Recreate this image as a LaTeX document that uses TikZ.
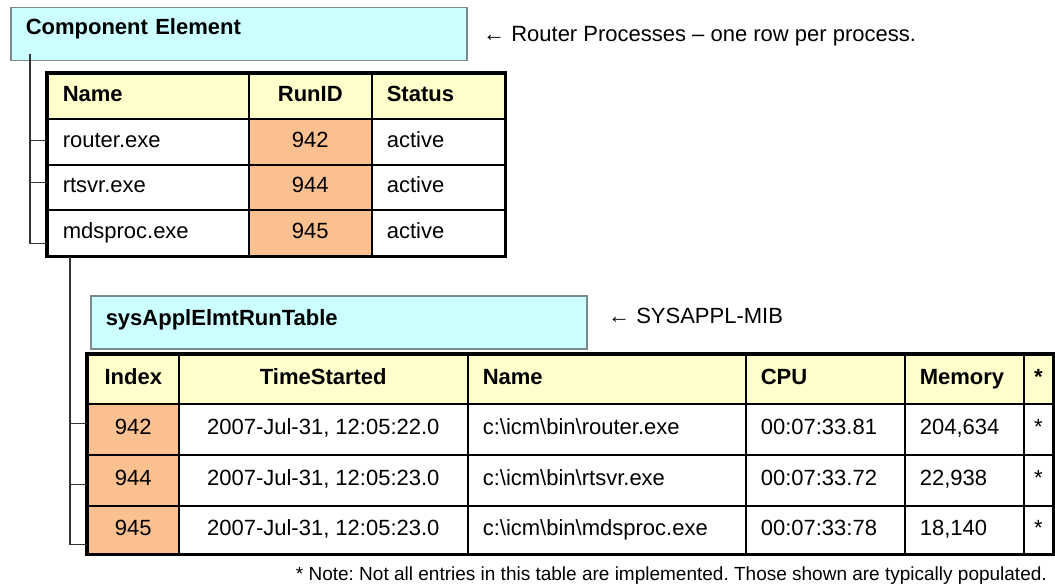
\documentclass[tikz,border=0pt]{standalone}
\usepackage{fontspec}
\setmainfont{Liberation Sans}
\usetikzlibrary{calc}
\definecolor{cyanfill}{HTML}{CCFFFF}
\definecolor{hdrfill}{HTML}{FFFFCC}
\definecolor{idfill}{HTML}{FAC090}
\definecolor{boxline}{HTML}{7A8A8C}
\definecolor{connline}{HTML}{333333}
\newcommand\fs{\fontsize{22}{26}\selectfont}
\newcommand\fsn{\fontsize{19}{23}\selectfont}
\newcommand\cel[6]{\node[cell,#4,minimum height=#5pt,anchor=north west] (#1) at (#2,#3) {#6};}
\newcommand\bs{\textbackslash}
\frenchspacing
\begin{document}
\frenchspacing
\begin{tikzpicture}[x=1pt,y=-1pt,
  cell/.style={draw=black,line width=1.6pt,inner xsep=15pt,inner ysep=0pt,font=\fs,text height=16pt,text depth=5pt,fill=white},
  hdr/.style={fill=hdrfill,font=\fs\bfseries},
  idc/.style={fill=idfill},
  t1c1/.style={minimum width=201pt,text width=171pt,align=left},
  t1c2/.style={minimum width=123pt,align=center},
  t1c3/.style={minimum width=133pt,text width=103pt,align=left},
  t2c1/.style={minimum width=91pt,align=center},
  t2c2/.style={minimum width=289pt,align=center},
  t2c3/.style={minimum width=278pt,text width=248pt,align=left},
  t2c4/.style={minimum width=159pt,text width=129pt,align=left},
  t2c5/.style={minimum width=119pt,text width=89pt,align=left},
  t2c6/.style={minimum width=29pt,inner xsep=0pt,align=center},
  outer/.style={draw=black,line width=3.5pt},
  titlebox/.style={draw=boxline,line width=1.5pt,fill=cyanfill,inner xsep=15pt,inner ysep=0pt,font=\fs\bfseries,align=left,anchor=north west},
  anno/.style={font=\fs,inner sep=0pt},
  conn/.style={draw=connline,line width=1.4pt}
]
\useasboundingbox (0,0) rectangle (1055,588);
\fill[white] (0,0) rectangle (1055,588);

% Component Element title
\node[titlebox,minimum width=456pt,minimum height=53pt,text width=426pt,text height=16pt,text depth=15pt] (ce) at (10,7) {Component Element};
\node[anno,anchor=base west] (a1) at (483,42) {← Router Processes – one row per process.};

% Table 1
\cel{h1n}{47}{73}{t1c1,hdr}{45}{Name}
\cel{h1r}{248}{73}{t1c2,hdr}{45}{RunID}
\cel{h1s}{371}{73}{t1c3,hdr}{45}{Status}
\cel{p1n}{47}{118}{t1c1}{46}{router.exe}
\cel{p1r}{248}{118}{t1c2,idc}{46}{942}
\cel{p1s}{371}{118}{t1c3}{46}{active}
\cel{p2n}{47}{164}{t1c1}{45}{rtsvr.exe}
\cel{p2r}{248}{164}{t1c2,idc}{45}{944}
\cel{p2s}{371}{164}{t1c3}{45}{active}
\cel{p3n}{47}{209}{t1c1}{46}{mdsproc.exe}
\cel{p3r}{248}{209}{t1c2,idc}{46}{945}
\cel{p3s}{371}{209}{t1c3}{46}{active}
\draw[outer] (h1n.north west) rectangle (p3s.south east);

% sysApplElmtRunTable title
\node[titlebox,minimum width=496pt,minimum height=53pt,text width=466pt,text height=16pt,text depth=9pt] (st) at (90,295) {sysApplElmtRunTable};
\node[anno,anchor=base west] (a2) at (608,323) {← SYSAPPL-MIB};

% Table 2
\cel{h2i}{87}{354}{t2c1,hdr}{49}{Index}
\cel{h2t}{178}{354}{t2c2,hdr}{49}{TimeStarted}
\cel{h2n}{467}{354}{t2c3,hdr}{49}{Name}
\cel{h2c}{745}{354}{t2c4,hdr}{49}{CPU}
\cel{h2m}{904}{354}{t2c5,hdr}{49}{Memory}
\cel{h2s}{1023}{354}{t2c6,hdr}{49}{*}
\cel{e1i}{87}{403}{t2c1,idc}{51}{942}
\cel{e1t}{178}{403}{t2c2}{51}{2007-Jul-31, 12:05:22.0}
\cel{e1n}{467}{403}{t2c3}{51}{c:\bs icm\bs bin\bs router.exe}
\cel{e1c}{745}{403}{t2c4}{51}{00:07:33.81}
\cel{e1m}{904}{403}{t2c5}{51}{204,634}
\cel{e1s}{1023}{403}{t2c6}{51}{*}
\cel{e2i}{87}{454}{t2c1,idc}{51}{944}
\cel{e2t}{178}{454}{t2c2}{51}{2007-Jul-31, 12:05:23.0}
\cel{e2n}{467}{454}{t2c3}{51}{c:\bs icm\bs bin\bs rtsvr.exe}
\cel{e2c}{745}{454}{t2c4}{51}{00:07:33.72}
\cel{e2m}{904}{454}{t2c5}{51}{22,938}
\cel{e2s}{1023}{454}{t2c6}{51}{*}
\cel{e3i}{87}{505}{t2c1,idc}{48}{945}
\cel{e3t}{178}{505}{t2c2}{48}{2007-Jul-31, 12:05:23.0}
\cel{e3n}{467}{505}{t2c3}{48}{c:\bs icm\bs bin\bs mdsproc.exe}
\cel{e3c}{745}{505}{t2c4}{48}{00:07:33:78}
\cel{e3m}{904}{505}{t2c5}{48}{18,140}
\cel{e3s}{1023}{505}{t2c6}{48}{*}
\draw[outer] (h2i.north west) rectangle (e3s.south east);

\node[anno,font=\fsn,anchor=base east] (note) at (1047,580) {* Note: Not all entries in this table are implemented. Those shown are typically populated.};

% Connector: Component Element -> processes
\coordinate (j1) at ($(ce.south west)+(20,-7)$);
\coordinate (k1) at ($(p1n.west)+(0,-1)$);
\coordinate (k2) at ($(p2n.west)+(0,-5)$);
\coordinate (k3) at ($(p3n.south west)+(0,-13)$);
\draw[conn] (j1) |- (k3);
\draw[conn] (j1 |- k1) -- (k1);
\draw[conn] (j1 |- k2) -- (k2);

% Connector: processes -> sysApplElmtRunTable rows
\coordinate (j2) at ($(p3n.south west)+(23,0)$);
\coordinate (m1) at ($(e1i.west)+(0,-6)$);
\coordinate (m2) at ($(e2i.west)+(0,4)$);
\coordinate (m3) at ($(e3i.south west)+(0,-10)$);
\draw[conn] (j2) |- (m3);
\draw[conn] (j2 |- m1) -- (m1);
\draw[conn] (j2 |- m2) -- (m2);
\end{tikzpicture}
\end{document}
